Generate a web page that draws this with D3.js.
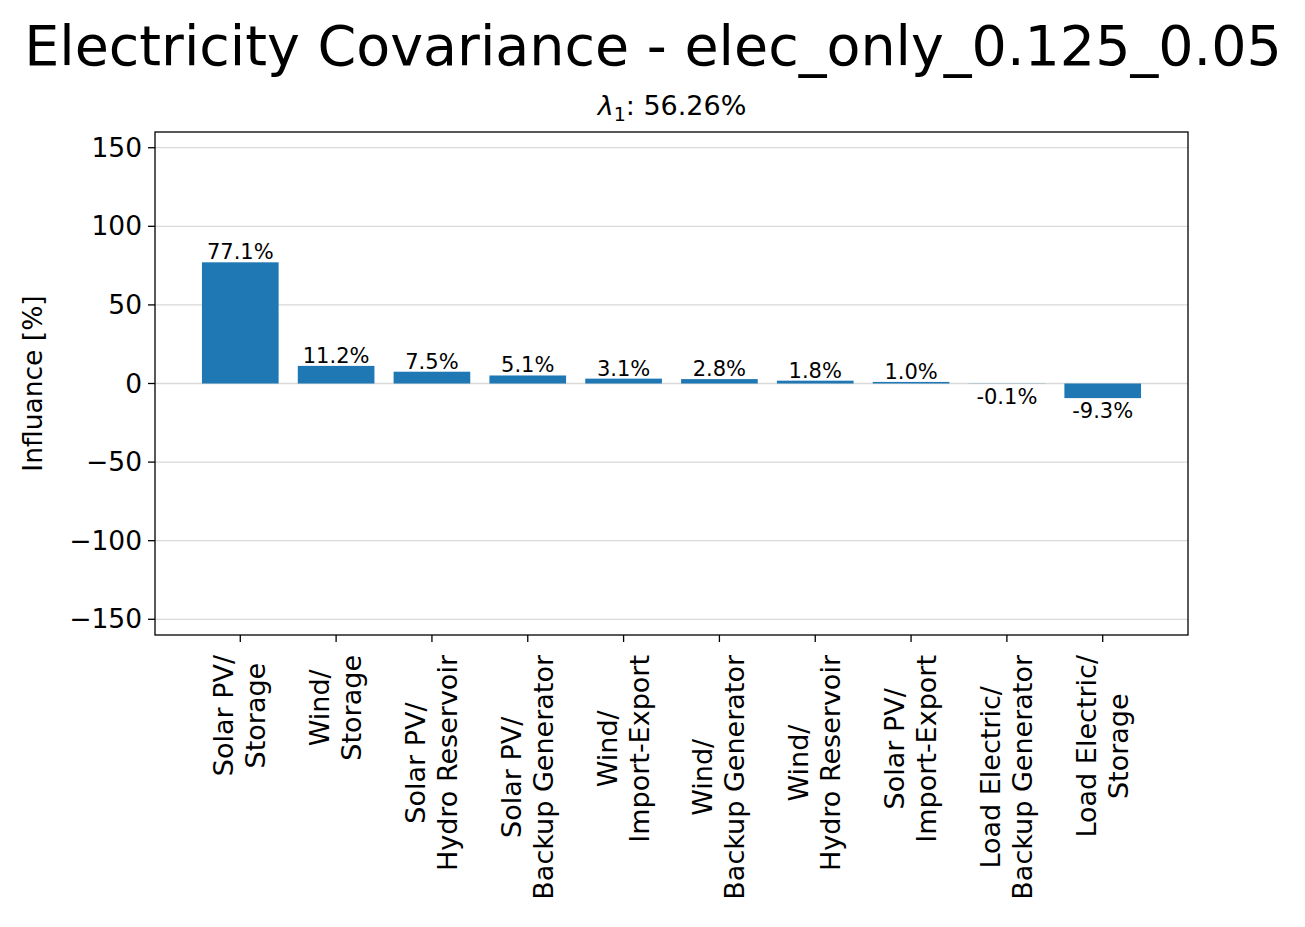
<!DOCTYPE html>
<html><head><meta charset="utf-8">
<script src="https://cdn.jsdelivr.net/npm/d3@7"></script>
<style>body{margin:0;background:#fff}text{font-family:"DejaVu Sans",sans-serif}</style>
</head><body><svg id="c" width="1305" height="927"></svg>
<script>
var categories = ["Solar PV/\nStorage","Wind/\nStorage","Solar PV/\nHydro Reservoir","Solar PV/\nBackup Generator","Wind/\nImport-Export","Wind/\nBackup Generator","Wind/\nHydro Reservoir","Solar PV/\nImport-Export","Load Electric/\nBackup Generator","Load Electric/\nStorage"];
var values = [77.1, 11.2, 7.5, 5.1, 3.1, 2.8, 1.8, 1.0, -0.1, -9.3];
var yTicks = [-150, -100, -50, 0, 50, 100, 150];

var svg = d3.select("#c");
var L = 155, R = 1188, T = 132, B = 635;
var x = d3.scaleLinear().domain([-0.89, 9.89]).range([L, R]);
var y = d3.scaleLinear().domain([-160, 160]).range([B, T]);

// grid
svg.selectAll(".g").data(yTicks).enter().append("line")
  .attr("x1", L).attr("x2", R).attr("y1", d => y(d)).attr("y2", d => y(d))
  .attr("stroke", "#d9d9d9").attr("stroke-width", 1.3);

// bars
svg.selectAll(".b").data(values).enter().append("rect")
  .attr("x", (d, i) => x(i - 0.4)).attr("width", x(0.8) - x(0))
  .attr("y", d => y(Math.max(0, d))).attr("height", d => Math.abs(y(d) - y(0)))
  .attr("fill", "#1f77b4");

// value labels
svg.selectAll(".v").data(values).enter().append("text")
  .attr("x", (d, i) => x(i)).attr("y", d => d >= 0 ? y(d) - 3 : y(d) + 20)
  .attr("text-anchor", "middle").attr("font-size", 21)
  .text(d => d.toFixed(1) + "%");

// frame
svg.append("rect").attr("x", L).attr("y", T).attr("width", R - L).attr("height", B - T)
  .attr("fill", "none").attr("stroke", "#000").attr("stroke-width", 1.3);

// y axis
var ya = svg.append("g");
yTicks.forEach(function (t) {
  ya.append("line").attr("x1", L - 7).attr("x2", L).attr("y1", y(t)).attr("y2", y(t)).attr("stroke", "#000").attr("stroke-width", 1.3);
  ya.append("text").attr("x", L - 13).attr("y", y(t) + 9).attr("text-anchor", "end")
    .attr("font-size", 26.5).text(t < 0 ? "\u2212" + Math.abs(t) : t);
});
svg.append("text").attr("transform", "translate(42," + ((T + B) / 2) + ") rotate(-90)")
  .attr("text-anchor", "middle").attr("font-size", 26.5).text("Influance [%]");

// x axis
categories.forEach(function (c, i) {
  var cx = x(i);
  svg.append("line").attr("x1", cx).attr("x2", cx).attr("y1", B).attr("y2", B + 7).attr("stroke", "#000").attr("stroke-width", 1.3);
  var lines = c.split("\n");
  var g = svg.append("g");
  var tx = g.append("text").attr("text-anchor", "middle").attr("font-size", 27);
  lines.forEach(function (l, k) {
    tx.append("tspan").attr("x", 0).attr("y", (k - (lines.length - 1) / 2) * 32 + 9).text(l);
  });
  var maxLen = d3.max(tx.selectAll("tspan").nodes(), n => n.getComputedTextLength());
  g.attr("transform", "translate(" + cx + "," + (B + 20 + maxLen / 2) + ") rotate(-90)");
});

// titles
svg.append("text").attr("x", 653).attr("y", 65).attr("text-anchor", "middle").attr("font-size", 55.5)
  .text("Electricity Covariance - elec_only_0.125_0.05");
var st = svg.append("text").attr("x", 672).attr("y", 115).attr("text-anchor", "middle").attr("font-size", 27);
st.append("tspan").attr("font-style", "italic").text("\u03bb");
st.append("tspan").attr("font-size", 19).attr("dy", 6).text("1");
st.append("tspan").attr("dy", -6).text(": 56.26%");
</script></body></html>
